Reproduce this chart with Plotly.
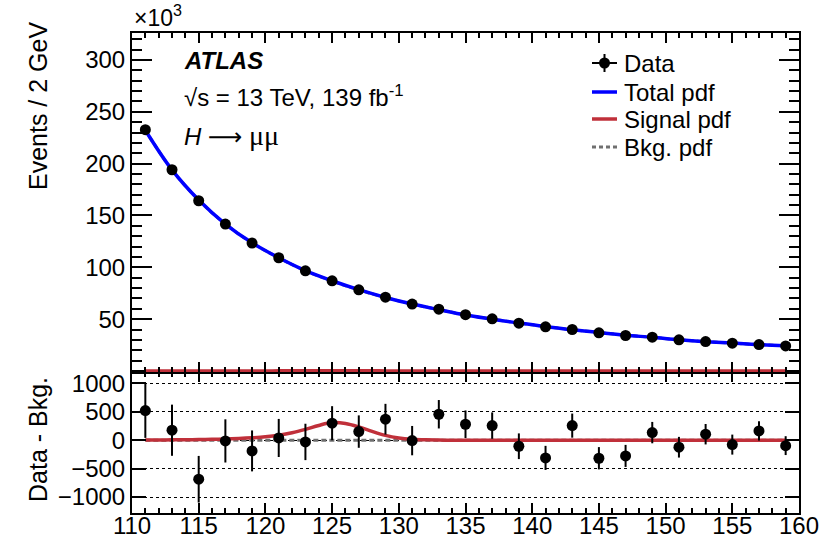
import plotly.graph_objects as go

# Di-muon invariant mass bins (2 GeV wide), bin centres in GeV
mass = [111, 113, 115, 117, 119, 121, 123, 125, 127, 129, 131, 133, 135,
        137, 139, 141, 143, 145, 147, 149, 151, 153, 155, 157, 159]

# Observed events per bin
data_events = [232700, 194100, 164200, 141700, 123400, 109200, 96600, 87000,
               78300, 71200, 64500, 59600, 54300, 50300, 46100, 42600, 40000,
               36800, 34200, 32600, 30000, 28400, 26800, 25500, 24200]

# Statistical uncertainty per bin
data_err = [480, 450, 410, 380, 360, 335, 320, 300, 285, 270, 258, 250, 243,
            232, 226, 212, 212, 196, 194, 188, 182, 180, 176, 170, 166]

# Data minus background fit per bin
data_minus_bkg = [521, 176, -686, -12, -188, 40, -30, 299, 152, 370, -7, 457,
                  281, 257, -106, -311, 257, -317, -276, 134, -123, 106, -77,
                  164, -95]

# Background-only and total (signal + background) fit at bin centres
bkg_pdf = [232180, 193920, 164890, 141710, 123590, 109160, 96630, 86700,
           78150, 70830, 64510, 59140, 54020, 50040, 46210, 42910, 39740,
           37120, 34480, 32470, 30120, 28290, 26880, 25340, 24300]
total_pdf = [232184, 193927, 164902, 141732, 123632, 109248, 96820, 87010,
             78385, 70915, 64527, 59143, 54020, 50040, 46210, 42910, 39740,
             37120, 34480, 32470, 30120, 28290, 26880, 25340, 24300]

# Signal shape on a 1 GeV grid
sig_mass = list(range(111, 160))
sig_pdf = [4, 5, 7, 9, 12, 16, 22, 30, 42, 60, 88, 130, 190, 260, 310, 295,
           235, 155, 85, 40, 17, 7, 3, 1] + [0] * 25

upper_ticks = [50000, 100000, 150000, 200000, 250000, 300000]
upper_ticktext = ["50", "100", "150", "200", "250", "300"]
lower_ticks = [-1000, -500, 0, 500, 1000]
lower_ticktext = ["\u22121000", "\u2212500", "0", "500", "1000"]

legend_labels = ["Data", "Total pdf", "Signal pdf", "Bkg. pdf"]

FONT = "Liberation Sans, Arial, Helvetica, sans-serif"
BLUE = "#0000ff"
RED = "#c0303a"
GREY = "#707070"

W, H = 835, 540
ML, MR, MT, MB = 132, 36, 33, 27
PW, PH = W - ML - MR, H - MT - MB


def px_x(px):
    """Pixel column -> paper x."""
    return (px - ML) / PW


def px_y(py):
    """Pixel row (from top) -> paper y."""
    return (H - MB - py) / PH


fig = go.Figure()

# ---- upper panel: spectrum and fits ----
fig.add_trace(go.Scatter(
    x=mass, y=bkg_pdf, xaxis="x2", yaxis="y2", mode="lines",
    line=dict(color=GREY, width=3, dash="5px,3px", shape="spline"),
    name="Bkg. pdf"))
fig.add_trace(go.Scatter(
    x=sig_mass, y=sig_pdf, xaxis="x2", yaxis="y2", mode="lines",
    line=dict(color=RED, width=3.5, shape="spline"), name="Signal pdf"))
fig.add_trace(go.Scatter(
    x=mass, y=total_pdf, xaxis="x2", yaxis="y2", mode="lines",
    line=dict(color=BLUE, width=3.5, shape="spline"), name="Total pdf"))
fig.add_trace(go.Scatter(
    x=mass, y=data_events, xaxis="x2", yaxis="y2", mode="markers",
    marker=dict(color="black", size=11),
    error_y=dict(type="data", array=data_err, width=0, thickness=2,
                 color="black"),
    name="Data"))

# ---- lower panel: background-subtracted ----
fig.add_trace(go.Scatter(
    x=mass, y=[b - b for b in bkg_pdf], mode="lines",
    line=dict(color=GREY, width=3.2, dash="5px,3px"), name="Bkg. pdf"))
fig.add_trace(go.Scatter(
    x=sig_mass, y=sig_pdf, mode="lines",
    line=dict(color=RED, width=3.5, shape="spline"), name="Signal pdf"))
fig.add_trace(go.Scatter(
    x=mass, y=data_minus_bkg, mode="markers",
    marker=dict(color="black", size=11),
    error_y=dict(type="data", array=data_err, width=0, thickness=2,
                 color="black"),
    name="Data"))

axis_common = dict(
    showline=True, linecolor="black", linewidth=2, mirror="allticks",
    ticks="inside", tickcolor="black", tickwidth=1.5, zeroline=False,
    showgrid=False, tickfont=dict(family=FONT, size=24, color="black"),
    automargin=False)

split = 141 / PH

fig.update_layout(
    width=W, height=H,
    margin=dict(l=ML, r=MR, t=MT, b=MB),
    paper_bgcolor="white", plot_bgcolor="white",
    font=dict(family=FONT, size=22, color="black"),
    showlegend=False,
    xaxis=dict(axis_common, domain=[0, 1], anchor="y", range=[110, 160],
               tick0=110, dtick=5, ticklen=10, ticklabelstandoff=-10,
               minor=dict(ticks="inside", ticklen=5, dtick=1,
                          tickcolor="black", tickwidth=1.5)),
    xaxis2=dict(axis_common, domain=[0, 1], anchor="y2", range=[110, 160],
                matches="x", showticklabels=False, tick0=110, dtick=5,
                ticklen=10,
                minor=dict(ticks="inside", ticklen=5, dtick=1,
                           tickcolor="black", tickwidth=1.5)),
    yaxis=dict(axis_common, domain=[0, split], anchor="x",
               range=[-1280, 1200], tickvals=lower_ticks,
               ticktext=lower_ticktext, ticklen=14, showgrid=True,
               gridcolor="black", gridwidth=1, griddash="dot"),
    yaxis2=dict(axis_common, domain=[split, 1], anchor="x2",
                range=[-1000, 326000], tickvals=upper_ticks,
                ticktext=upper_ticktext, ticklen=20,
                minor=dict(ticks="inside", ticklen=10, dtick=10000,
                           tick0=0, tickcolor="black", tickwidth=1.5)),
)

annotations = [
    dict(text="\u00d710<sup>3</sup>", x=0, y=1.0, xanchor="left",
         yanchor="bottom", font=dict(size=23)),
    dict(text="<b><i>ATLAS</i></b>", x=px_x(182), y=px_y(60),
         xanchor="left", yanchor="middle", font=dict(size=24)),
    dict(text="\u221as = 13 TeV, 139 fb<sup>-1</sup>", x=px_x(182),
         y=px_y(96), xanchor="left", yanchor="middle", font=dict(size=24)),
    dict(text=("<i>H</i> <span style=\"font-family:'DejaVu Sans'\">"
               "\u27f6</span> "
               "<span style=\"font-family:'Liberation Serif';"
               "font-size:28px\">\u03bc\u03bc</span>"),
         x=px_x(182), y=px_y(135), xanchor="left", yanchor="middle",
         font=dict(size=24)),
    dict(text="Events / 2 GeV", textangle=-90, x=px_x(38), y=px_y(106),
         xanchor="center", yanchor="middle", font=dict(size=25)),
    dict(text="Data - Bkg.", textangle=-90, x=px_x(38), y=px_y(440),
         xanchor="center", yanchor="middle", font=dict(size=25)),
]

# legend: key symbols on the left, labels to the right
legend_rows = [63, 92, 119, 147]
key_x0, key_x1, text_x = 592, 617, 622
shapes = []
for label, row in zip(legend_labels, legend_rows):
    annotations.append(dict(text=label, x=px_x(text_x), y=px_y(row),
                            xanchor="left", yanchor="middle",
                            font=dict(size=24)))
key_style = [
    dict(color="black", width=2),
    dict(color=BLUE, width=3.5),
    dict(color=RED, width=3.5),
    dict(color=GREY, width=3, dash="4px,3px"),
]
for style, row in zip(key_style, legend_rows):
    shapes.append(dict(type="line", x0=px_x(key_x0), x1=px_x(key_x1),
                       y0=px_y(row), y1=px_y(row), line=style))
# data key: vertical bar and filled marker
mid = (key_x0 + key_x1) / 2
shapes.append(dict(type="line", x0=px_x(mid), x1=px_x(mid),
                   y0=px_y(legend_rows[0] - 9), y1=px_y(legend_rows[0] + 9),
                   line=dict(color="black", width=2)))
shapes.append(dict(type="circle", x0=px_x(mid - 5.5), x1=px_x(mid + 5.5),
                   y0=px_y(legend_rows[0] - 5.5),
                   y1=px_y(legend_rows[0] + 5.5),
                   fillcolor="black", line=dict(color="black", width=0)))
for s in shapes:
    s.update(xref="paper", yref="paper")

for a in annotations:
    a.update(xref="paper", yref="paper", showarrow=False)
    a["font"] = dict(family=FONT, color="black", **a["font"])

fig.update_layout(annotations=annotations, shapes=shapes)

fig.write_html("out.html")
